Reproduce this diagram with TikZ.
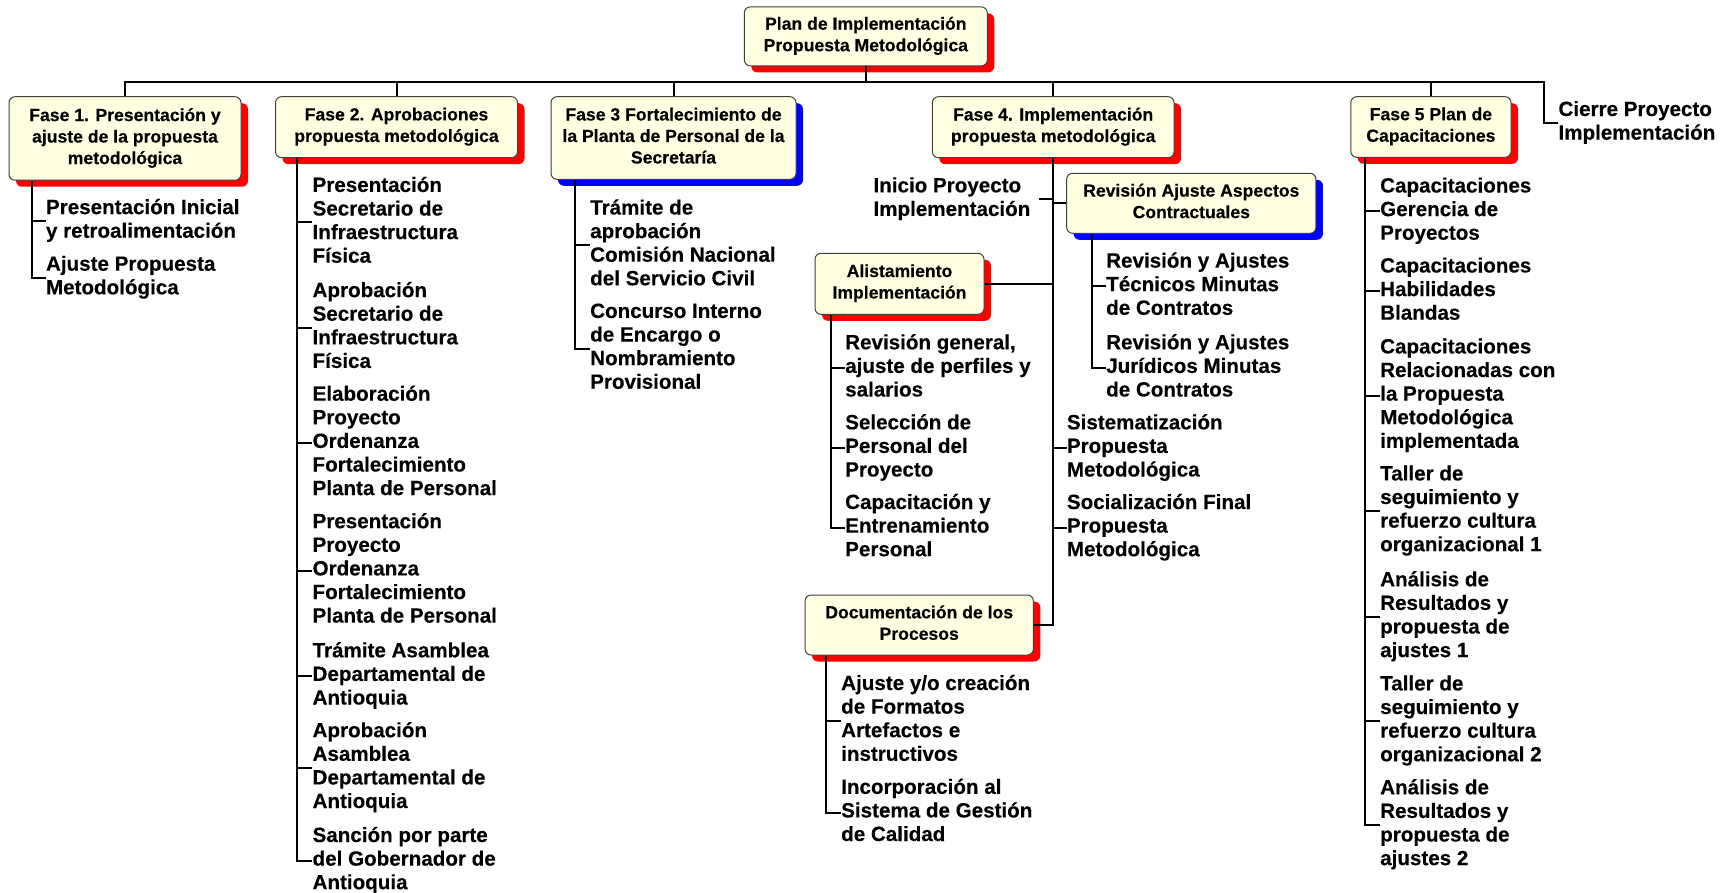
\documentclass[tikz,border=0pt]{standalone}
\usepackage{fontspec}
\setmainfont{Liberation Sans}[BoldFeatures={FakeBold=0.3}]
\usetikzlibrary{shadows}
\definecolor{boxfill}{RGB}{255,255,225}
\newcommand\bxfont{\fontsize{17.6pt}{21.5pt}\selectfont\bfseries}
\newcommand\chfont{\fontsize{20.6pt}{23.6pt}\selectfont\bfseries}
\newcommand\bxstrut{\rule[-4.75pt]{0pt}{21.5pt}}
\newcommand\chstrut{\rule[-5.3pt]{0pt}{23.6pt}}

\begin{document}
\begin{tikzpicture}[x=1pt, y=-1pt,
  box/.style={rectangle, rounded corners=6pt, draw=black!75, line width=1pt,
    fill=boxfill, align=center, font=\bxfont, inner sep=0pt,
    execute at begin node=\bxstrut, execute at end node=\bxstrut},
  redbox/.style={box, general shadow={fill=red, shadow xshift=7pt, shadow yshift=-6.5pt}},
  bluebox/.style={box, general shadow={fill=blue, shadow xshift=7pt, shadow yshift=-6.5pt}},
  item/.style={anchor=west, align=left, inner sep=0pt, font=\chfont, yshift=-3pt,
    execute at begin node=\chstrut, execute at end node=\chstrut},
  wire/.style={draw=black, line width=2pt}]

\useasboundingbox (0,0) rectangle (1729,893);

% ---- boxes ----
\node[redbox, minimum width=243pt, minimum height=59pt] (top) at (865.8,36.4)
  {Plan de Implementación\\Propuesta Metodológica};
\node[redbox, minimum width=232pt, minimum height=83.5pt] (f1) at (125,138.5)
  {Fase 1. Presentación y\\ajuste de la propuesta\\metodológica};
\node[redbox, minimum width=242pt, minimum height=61pt] (f2) at (396.5,127.2)
  {Fase 2. Aprobaciones\\propuesta metodológica};
\node[bluebox, minimum width=245pt, minimum height=82.6pt] (f3) at (673.5,138)
  {Fase 3 Fortalecimiento de\\la Planta de Personal de la\\Secretaría};
\node[redbox, minimum width=241.7pt, minimum height=61pt] (f4) at (1053.2,127.2)
  {Fase 4. Implementación\\propuesta metodológica};
\node[redbox, minimum width=160.3pt, minimum height=60.6pt] (f5) at (1430.9,127)
  {Fase 5 Plan de\\Capacitaciones};
\node[bluebox, minimum width=249.3pt, minimum height=60pt] (rev) at (1191.3,203.3)
  {Revisión Ajuste Aspectos\\Contractuales};
\node[redbox, minimum width=169pt, minimum height=61pt] (ali) at (899.5,283.8)
  {Alistamiento\\Implementación};
\node[redbox, minimum width=228.3pt, minimum height=60pt] (doc) at (919.2,625)
  {Documentación de los\\Procesos};

% ---- leaf texts ----
\node[item] (cie) at (1558.3,120) {Cierre Proyecto\\Implementación};

\node[item] (c11) at (45.8,218) {Presentación Inicial\\y retroalimentación};
\node[item] (c12) at (45.8,274.7) {Ajuste Propuesta\\Metodológica};

\node[item] (c21) at (312.4,219.4) {Presentación\\Secretario de\\Infraestructura\\Física};
\node[item] (c22) at (312.4,324.6) {Aprobación\\Secretario de\\Infraestructura\\Física};
\node[item] (c23) at (312.4,440) {Elaboración\\Proyecto\\Ordenanza\\Fortalecimiento\\Planta de Personal};
\node[item] (c24) at (312.4,567.5) {Presentación\\Proyecto\\Ordenanza\\Fortalecimiento\\Planta de Personal};
\node[item] (c25) at (312.4,673) {Trámite Asamblea\\Departamental de\\Antioquia};
\node[item] (c26) at (312.4,764.7) {Aprobación\\Asamblea\\Departamental de\\Antioquia};
\node[item] (c27) at (312.4,857.7) {Sanción por parte\\del Gobernador de\\Antioquia};

\node[item] (c31) at (590,242) {Trámite de\\aprobación\\Comisión Nacional\\del Servicio Civil};
\node[item] (c32) at (590,345.8) {Concurso Interno\\de Encargo o\\Nombramiento\\Provisional};

\node[item] (ini) at (873.3,196.3) {Inicio Proyecto\\Implementación};
\node[item] (sis) at (1066.7,445) {Sistematización\\Propuesta\\Metodológica};
\node[item] (soc) at (1066.7,524.7) {Socialización Final\\Propuesta\\Metodológica};

\node[item] (r1) at (1106,283.3) {Revisión y Ajustes\\Técnicos Minutas\\de Contratos};
\node[item] (r2) at (1106,365) {Revisión y Ajustes\\Jurídicos Minutas\\de Contratos};

\node[item] (a1) at (845,365) {Revisión general,\\ajuste de perfiles y\\salarios};
\node[item] (a2) at (845,445) {Selección de\\Personal del\\Proyecto};
\node[item] (a3) at (845,524.7) {Capacitación y\\Entrenamiento\\Personal};

\node[item] (d1) at (841,717.5) {Ajuste y/o creación\\de Formatos\\Artefactos e\\instructivos};
\node[item] (d2) at (841,809.5) {Incorporación al\\Sistema de Gestión\\de Calidad};

\node[item] (p1) at (1380,208.3) {Capacitaciones\\Gerencia de\\Proyectos};
\node[item] (p2) at (1380,288.3) {Capacitaciones\\Habilidades\\Blandas};
\node[item] (p3) at (1380,392.8) {Capacitaciones\\Relacionadas con\\la Propuesta\\Metodológica\\implementada};
\node[item] (p4) at (1380,508) {Taller de\\seguimiento y\\refuerzo cultura\\organizacional 1};
\node[item] (p5) at (1380,613.8) {Análisis de\\Resultados y\\propuesta de\\ajustes 1};
\node[item] (p6) at (1380,718) {Taller de\\seguimiento y\\refuerzo cultura\\organizacional 2};
\node[item] (p7) at (1380,821.8) {Análisis de\\Resultados y\\propuesta de\\ajustes 2};

% ---- top bus ----
\coordinate (busR) at (1544.3,81.7);
\draw[wire] (f1.north) |- (busR) |- (cie.west);
\foreach \n in {top.south, f2.north, f3.north, f4.north, f5.north}
  \draw[wire] (\n) -- (\n |- busR);

% ---- phase 1 ----
\coordinate (v1) at ([xshift=23pt]f1.south west);
\draw[wire] (v1) |- (c12.west);
\draw[wire] (c11.west -| v1) -- (c11.west);

% ---- phase 2 ----
\coordinate (v2) at ([xshift=22.4pt]f2.south west);
\draw[wire] (v2) |- (c27.west);
\foreach \c in {c21,c22,c23,c24,c25,c26}
  \draw[wire] (\c.west -| v2) -- (\c.west);

% ---- phase 3 ----
\coordinate (v3) at ([xshift=24pt]f3.south west);
\draw[wire] (v3) |- (c32.west);
\draw[wire] (c31.west -| v3) -- (c31.west);

% ---- phase 4 ----
\draw[wire] (f4.south) |- (doc.east);
\draw[wire] ([xshift=8pt]ini.east) -- (ini.east -| f4.south);
\draw[wire] (rev.west -| f4.south) -- (rev.west);
\draw[wire] (ali.east) -- (ali.east -| f4.south);
\draw[wire] (sis.west -| f4.south) -- (sis.west);
\draw[wire] (soc.west -| f4.south) -- (soc.west);

\coordinate (vr) at ([xshift=26pt]rev.south west);
\draw[wire] (vr) |- (r2.west);
\draw[wire] (r1.west -| vr) -- (r1.west);

\coordinate (va) at ([xshift=16pt]ali.south west);
\draw[wire] (va) |- (a3.west);
\foreach \c in {a1,a2}
  \draw[wire] (\c.west -| va) -- (\c.west);

\coordinate (vd) at ([xshift=21.7pt]doc.south west);
\draw[wire] (vd) |- (d2.west);
\draw[wire] (d1.west -| vd) -- (d1.west);

% ---- phase 5 ----
\coordinate (v5) at ([xshift=14.3pt]f5.south west);
\draw[wire] (v5) |- (p7.west);
\foreach \c in {p1,p2,p3,p4,p5,p6}
  \draw[wire] (\c.west -| v5) -- (\c.west);

\end{tikzpicture}
\end{document}
